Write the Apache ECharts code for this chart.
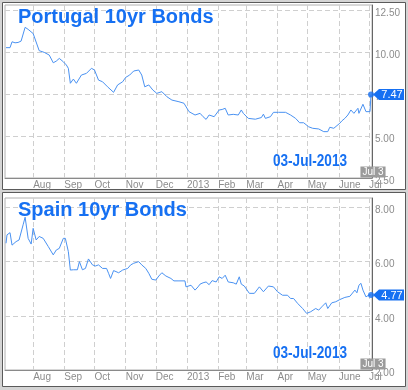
<!DOCTYPE html>
<html>
<head>
<meta charset="utf-8">
<script src="https://cdn.jsdelivr.net/npm/echarts@6/dist/echarts.min.js"></script>
<style>
html,body{margin:0;padding:0;background:#d4d4d4;}
#c{width:408px;height:390px;}
</style>
</head>
<body>
<div id="c"></div>
<script>
// ---- data ----
const ptDates = ['2012-07-05','2012-07-09','2012-07-11','2012-07-14','2012-07-17','2012-07-20','2012-07-24','2012-07-27','2012-08-01','2012-08-07','2012-08-12','2012-08-17','2012-08-21','2012-08-24','2012-08-27','2012-08-31','2012-09-03','2012-09-05','2012-09-07','2012-09-10','2012-09-13','2012-09-18','2012-09-23','2012-09-28','2012-10-01','2012-10-05','2012-10-09','2012-10-14','2012-10-20','2012-10-24','2012-10-29','2012-11-01','2012-11-05','2012-11-09','2012-11-14','2012-11-17','2012-11-20','2012-11-24','2012-11-28','2012-12-02','2012-12-07','2012-12-12','2012-12-17','2012-12-24','2012-12-29','2013-01-03','2013-01-06','2013-01-09','2013-01-14','2013-01-17','2013-01-20','2013-01-23','2013-01-28','2013-02-02','2013-02-05','2013-02-08','2013-02-11','2013-02-16','2013-02-21','2013-02-24','2013-02-26','2013-03-03','2013-03-10','2013-03-16','2013-03-18','2013-03-20','2013-03-25','2013-03-28','2013-04-02','2013-04-09','2013-04-14','2013-04-19','2013-04-23','2013-04-27','2013-05-02','2013-05-06','2013-05-12','2013-05-17','2013-05-21','2013-05-23','2013-05-27','2013-06-02','2013-06-04','2013-06-07','2013-06-10','2013-06-13','2013-06-16','2013-06-20','2013-06-21','2013-06-25','2013-06-28','2013-07-02','2013-07-03'];
const ptValues = [10.26,10.26,10.61,10.55,10.57,10.65,11.47,11.35,11.10,10.08,9.98,9.82,9.36,9.46,9.62,9.42,9.23,9.03,8.14,8.39,8.14,8.63,8.73,9.03,8.93,8.33,8.23,7.93,7.60,8.04,8.23,8.49,8.63,8.87,8.93,8.63,7.93,8.04,7.74,7.54,7.64,7.34,7.14,7.04,6.95,6.45,6.35,6.25,6.35,6.15,5.99,6.25,6.15,6.55,6.58,6.65,6.25,6.29,6.25,6.55,6.35,6.05,6.00,6.10,6.30,6.05,6.15,6.41,6.41,6.41,6.25,6.05,5.79,5.79,5.55,5.46,5.42,5.26,5.26,5.52,5.46,5.76,5.90,6.05,6.25,6.55,6.35,6.65,6.35,6.89,6.45,6.45,7.47];

const esDates = ['2012-07-05','2012-07-06','2012-07-09','2012-07-11','2012-07-15','2012-07-18','2012-07-22','2012-07-24','2012-07-27','2012-07-30','2012-08-01','2012-08-04','2012-08-07','2012-08-11','2012-08-16','2012-08-21','2012-08-24','2012-08-27','2012-08-31','2012-09-02','2012-09-05','2012-09-07','2012-09-10','2012-09-14','2012-09-16','2012-09-19','2012-09-22','2012-09-25','2012-09-29','2012-10-02','2012-10-05','2012-10-09','2012-10-13','2012-10-15','2012-10-17','2012-10-20','2012-10-25','2012-10-29','2012-11-03','2012-11-06','2012-11-09','2012-11-14','2012-11-17','2012-11-21','2012-11-24','2012-11-27','2012-12-01','2012-12-04','2012-12-07','2012-12-11','2012-12-16','2012-12-19','2012-12-24','2012-12-30','2012-12-31','2013-01-05','2013-01-09','2013-01-12','2013-01-14','2013-01-17','2013-01-20','2013-01-23','2013-01-26','2013-01-30','2013-02-02','2013-02-05','2013-02-08','2013-02-11','2013-02-16','2013-02-19','2013-02-22','2013-02-24','2013-02-27','2013-03-04','2013-03-09','2013-03-14','2013-03-18','2013-03-23','2013-03-28','2013-04-01','2013-04-06','2013-04-11','2013-04-14','2013-04-17','2013-04-21','2013-04-26','2013-04-30','2013-05-04','2013-05-09','2013-05-12','2013-05-15','2013-05-19','2013-05-21','2013-05-25','2013-05-29','2013-06-02','2013-06-07','2013-06-12','2013-06-17','2013-06-19','2013-06-21','2013-06-23','2013-06-25','2013-06-28','2013-07-01','2013-07-03'];
const esValues = [6.68,6.99,7.07,6.61,6.74,6.80,7.36,7.64,6.86,6.65,7.23,6.80,6.93,6.86,6.56,6.25,6.43,6.49,6.86,6.86,6.37,5.69,5.70,5.70,6.00,5.70,5.75,6.10,5.88,5.84,5.88,5.75,5.75,5.57,5.38,5.67,5.59,5.69,5.75,5.88,5.94,6.00,5.88,5.75,5.57,5.35,5.32,5.47,5.59,5.47,5.38,5.29,5.29,5.29,5.07,5.13,4.95,5.07,5.17,5.22,5.25,5.15,5.30,5.25,5.44,5.38,5.50,5.25,5.22,5.17,5.44,5.17,5.10,4.83,4.83,5.07,4.89,5.10,5.07,4.89,4.76,4.76,4.64,4.64,4.46,4.27,4.09,4.15,4.27,4.21,4.33,4.48,4.27,4.48,4.52,4.60,4.68,4.72,4.95,4.85,5.13,5.20,4.95,4.70,4.77,4.77];

const monthTicks = ['2012-08-01','2012-09-01','2012-10-01','2012-11-01','2012-12-01','2013-01-01','2013-02-01','2013-03-01','2013-04-01','2013-05-01','2013-06-01','2013-07-01'];
const monthLabels = ['Aug','Sep','Oct','Nov','Dec','2013','Feb','Mar','Apr','May','June','Jul'];
const ptTicks = [2.5, 5, 7.5, 10, 12.5];
const esTicks = [2, 4, 6, 8];
const titles = ['Portugal 10yr Bonds', 'Spain 10yr Bonds'];
const dateText = '03-Jul-2013';
const lastLabel = 'Jul 3';

// ---- helpers ----
function ts(s){ const p = s.split('-').map(Number); return Date.UTC(p[0], p[1]-1, p[2]); }
const tickTs = monthTicks.map(ts);
const xMin = ts('2012-07-04'), xMax = ts('2013-07-04');
const FONT = '"Liberation Sans", Arial, sans-serif';
const LINE = '#4a92f2';
const BLUE = '#1670f2';

const panels = [
  {dates: ptDates, values: ptValues, ticks: ptTicks, min: 2.5, max: 12.8, top: 5, height: 173},
  {dates: esDates, values: esValues, ticks: esTicks, min: 2, max: 8.35, top: 198, height: 172}
];

const chart = echarts.init(document.getElementById('c'), null, {renderer: 'canvas'});

const option = {
  animation: false,
  backgroundColor: '#d4d4d4',
  grid: panels.map(p => ({left: 5, right: 36, top: p.top, height: p.height, show: true,
    backgroundColor: 'transparent', borderColor: '#b0b0b0', borderWidth: 1, containLabel: false})),
  xAxis: panels.map((p, i) => ({
    type: 'value', gridIndex: i, min: xMin, max: xMax, scale: true,
    axisLine: {show: true, onZero: false, lineStyle: {color: '#8a8a8a', width: 1}},
    axisTick: {show: false, customValues: tickTs},
    splitLine: {show: true, lineStyle: {color: '#cfcfcf', type: [5, 3], width: 1}},
    axisLabel: {customValues: tickTs, align: 'left', margin: 2, fontSize: 10, color: '#8c8c8c', fontFamily: FONT,
      hideOverlap: false,
      formatter: v => { const k = tickTs.indexOf(v); return k >= 0 ? monthLabels[k] : ''; }}
  })),
  yAxis: panels.map((p, i) => ({
    type: 'value', gridIndex: i, position: 'right', min: p.min, max: p.max,
    axisLine: {show: true, onZero: false, lineStyle: {color: '#666', width: 1}},
    axisTick: {show: false, customValues: p.ticks},
    splitLine: {show: true, lineStyle: {color: '#cfcfcf', type: [5, 3], width: 1}},
    axisLabel: {show: true, customValues: p.ticks, margin: 3, fontSize: 10, color: '#8c8c8c', fontFamily: FONT,
      formatter: v => '{a|' + v.toFixed(2) + '}',
      rich: {a: {fontSize: 10, color: '#8c8c8c', fontFamily: FONT, padding: [6, 0, 0, 0]}}}
  })),
  series: [],
  graphic: []
};

panels.forEach((p, i) => {
  option.series.push({
    type: 'line', xAxisIndex: i, yAxisIndex: i, showSymbol: false, symbol: 'none',
    lineStyle: {color: LINE, width: 1}, data: p.dates.map((d, k) => [ts(d), p.values[k]]), z: 3
  });
  const n = p.dates.length - 1;
  option.series.push({
    type: 'scatter', xAxisIndex: i, yAxisIndex: i, symbol: 'circle', symbolSize: 6,
    itemStyle: {color: BLUE}, data: [[ts(p.dates[n]), p.values[n]]], z: 5, clip: false
  });
});

option.graphic.push(
  {type: 'rect', shape: {x: 2.5, y: 2.5, width: 403, height: 187}, style: {fill: '#fff', stroke: '#5a5a5a', lineWidth: 1}, z: -10, silent: true},
  {type: 'rect', shape: {x: 2.5, y: 192.5, width: 403, height: 194}, style: {fill: '#fff', stroke: '#5a5a5a', lineWidth: 1}, z: -10, silent: true}
);

chart.setOption(option);

const extra = [];
panels.forEach((p, i) => {
  const n = p.dates.length - 1;
  const pt = chart.convertToPixel({gridIndex: i}, [ts(p.dates[n]), p.values[n]]);
  const bottom = chart.convertToPixel({gridIndex: i}, [ts(p.dates[n]), p.min]);
  const axisX = chart.convertToPixel({gridIndex: i}, [xMax, p.min])[0];
  extra.push({type: 'text', x: 18, y: p.top + 2, z: 20,
    style: {text: titles[i], fill: BLUE, font: 'bold 20px ' + FONT}});
  extra.push({type: 'text', x: 310, y: bottom[1] - 17, z: 20, scaleX: 0.8, scaleY: 1,
    style: {text: dateText, fill: BLUE, font: 'bold 17px ' + FONT, align: 'center', verticalAlign: 'middle'}});
  const bx = axisX + 1, by = pt[1];
  extra.push({type: 'polygon', z: 20, shape: {points: [[bx, by], [bx + 6, by - 5.5], [bx + 31, by - 5.5], [bx + 31, by + 5.5], [bx + 6, by + 5.5]]},
    style: {fill: BLUE}});
  extra.push({type: 'text', z: 21, x: bx + 19, y: by + 0.5,
    style: {text: p.values[n].toFixed(2), fill: '#fff', font: '11px ' + FONT, align: 'center', verticalAlign: 'middle'}});
  extra.push({type: 'text', z: 21, x: pt[0] + 2, y: bottom[1] - 6,
    style: {text: lastLabel, fill: '#fff', font: '10px ' + FONT, align: 'center', verticalAlign: 'middle',
      backgroundColor: '#9b9b9b', padding: [1, 2, 0, 2], lineHeight: 10}});
});
chart.setOption({graphic: option.graphic.concat(extra)});
</script>
</body>
</html>
